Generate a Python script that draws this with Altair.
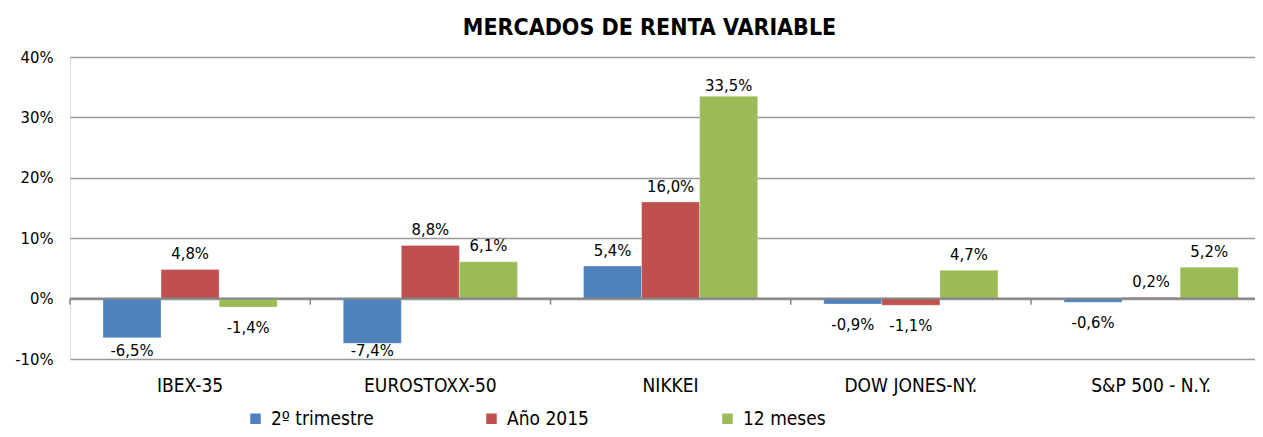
import altair as alt
import pandas as pd

categories = ["IBEX-35", "EUROSTOXX-50", "NIKKEI", "DOW JONES-NY.", "S&P 500 - N.Y."]
series = ["2º trimestre", "Año 2015", "12 meses"]
trimestre = [-6.5, -7.4, 5.4, -0.9, -0.6]
ano_2015 = [4.8, 8.8, 16.0, -1.1, 0.2]
doce_meses = [-1.4, 6.1, 33.5, 4.7, 5.2]
colors = ["#4F81BD", "#C0504D", "#9BBB59"]
y_ticks = [-10, 0, 10, 20, 30, 40]

rows = []
for i, c in enumerate(categories):
    for s, vals in zip(series, [trimestre, ano_2015, doce_meses]):
        v = vals[i]
        rows.append(dict(mercado=c, serie=s, valor=v,
                         etiqueta=f"{v:.1f}%".replace(".", ",")))
df = pd.DataFrame(rows)
cat_df = pd.DataFrame({"mercado": categories, "z0": 0, "z1": -1})

FONT = "'DejaVu Sans Condensed', 'Liberation Sans', sans-serif"

xscale = alt.Scale(paddingInner=0.275, paddingOuter=0.1036, align=0.663)
x = alt.X("mercado:N", sort=categories, title=None, scale=xscale,
          axis=alt.Axis(labelAngle=0, labelFontSize=19, labelFont=FONT,
                        labelColor="#000000", labelPadding=17, ticks=False,
                        domain=False, grid=False))
xo = alt.XOffset("serie:N", sort=series)
y = alt.Y("valor:Q", title=None,
          scale=alt.Scale(domain=[-10, 40], nice=False),
          axis=alt.Axis(values=y_ticks, labelExpr="datum.value + '%'",
                        labelFontSize=16.5, labelFont=FONT, labelColor="#000000",
                        labelPadding=17, ticks=False, domain=False,
                        grid=True, gridColor="#9a9a9a", gridWidth=1.5))
color = alt.Color("serie:N", sort=series,
                  scale=alt.Scale(domain=series, range=colors),
                  legend=alt.Legend(title=None, orient="none", legendX=176,
                                    legendY=352, direction="horizontal",
                                    columns=3, gridAlign="all",
                                    columnPadding=108, symbolType="square",
                                    symbolSize=110, symbolStrokeWidth=0,
                                    labelFontSize=19, labelFont=FONT,
                                    labelColor="#000000", labelLimit=0,
                                    labelOffset=6))

base = alt.Chart(df)

bars = base.mark_bar(stroke="#ffffff", strokeWidth=0.5, strokeOpacity=0.6).encode(
    x=x, xOffset=xo, y=y, color=color)

zero = alt.Chart(pd.DataFrame({"z": [0]})).mark_rule(
    color="#868686", strokeWidth=2).encode(y=alt.Y("z:Q"))

ticks = alt.Chart(cat_df).mark_rule(color="#868686", strokeWidth=1.5,
                                    xOffset=-33).encode(
    x=alt.X("mercado:N", sort=categories, bandPosition=0),
    y=alt.Y("z0:Q"), y2=alt.Y2("z1:Q"))

labels = base.transform_calculate(
    ly="datum.valor >= 0 ? min(datum.valor + 2.55, 35.2) : max(datum.valor - 3.5, -8.6)"
).mark_text(baseline="middle", fontSize=16.5, font=FONT,
            color="#000000").encode(
    x=x, xOffset=xo, y=alt.Y("ly:Q"), text="etiqueta:N")

chart = alt.layer(bars, zero, ticks, labels).properties(
    width=1185, height=302,
    title=alt.TitleParams("MERCADOS DE RENTA VARIABLE", fontSize=23,
                          font=FONT, fontWeight="bold", anchor="middle",
                          dx=-13, offset=9, color="#000000"),
    padding={"left": 62, "top": 49, "right": 0, "bottom": 70},
    autosize=alt.AutoSizeParams(type="none"),
).configure_view(stroke=None).configure(background="#ffffff")

chart.save("out.html", embed_options={"renderer": "svg", "actions": False})
